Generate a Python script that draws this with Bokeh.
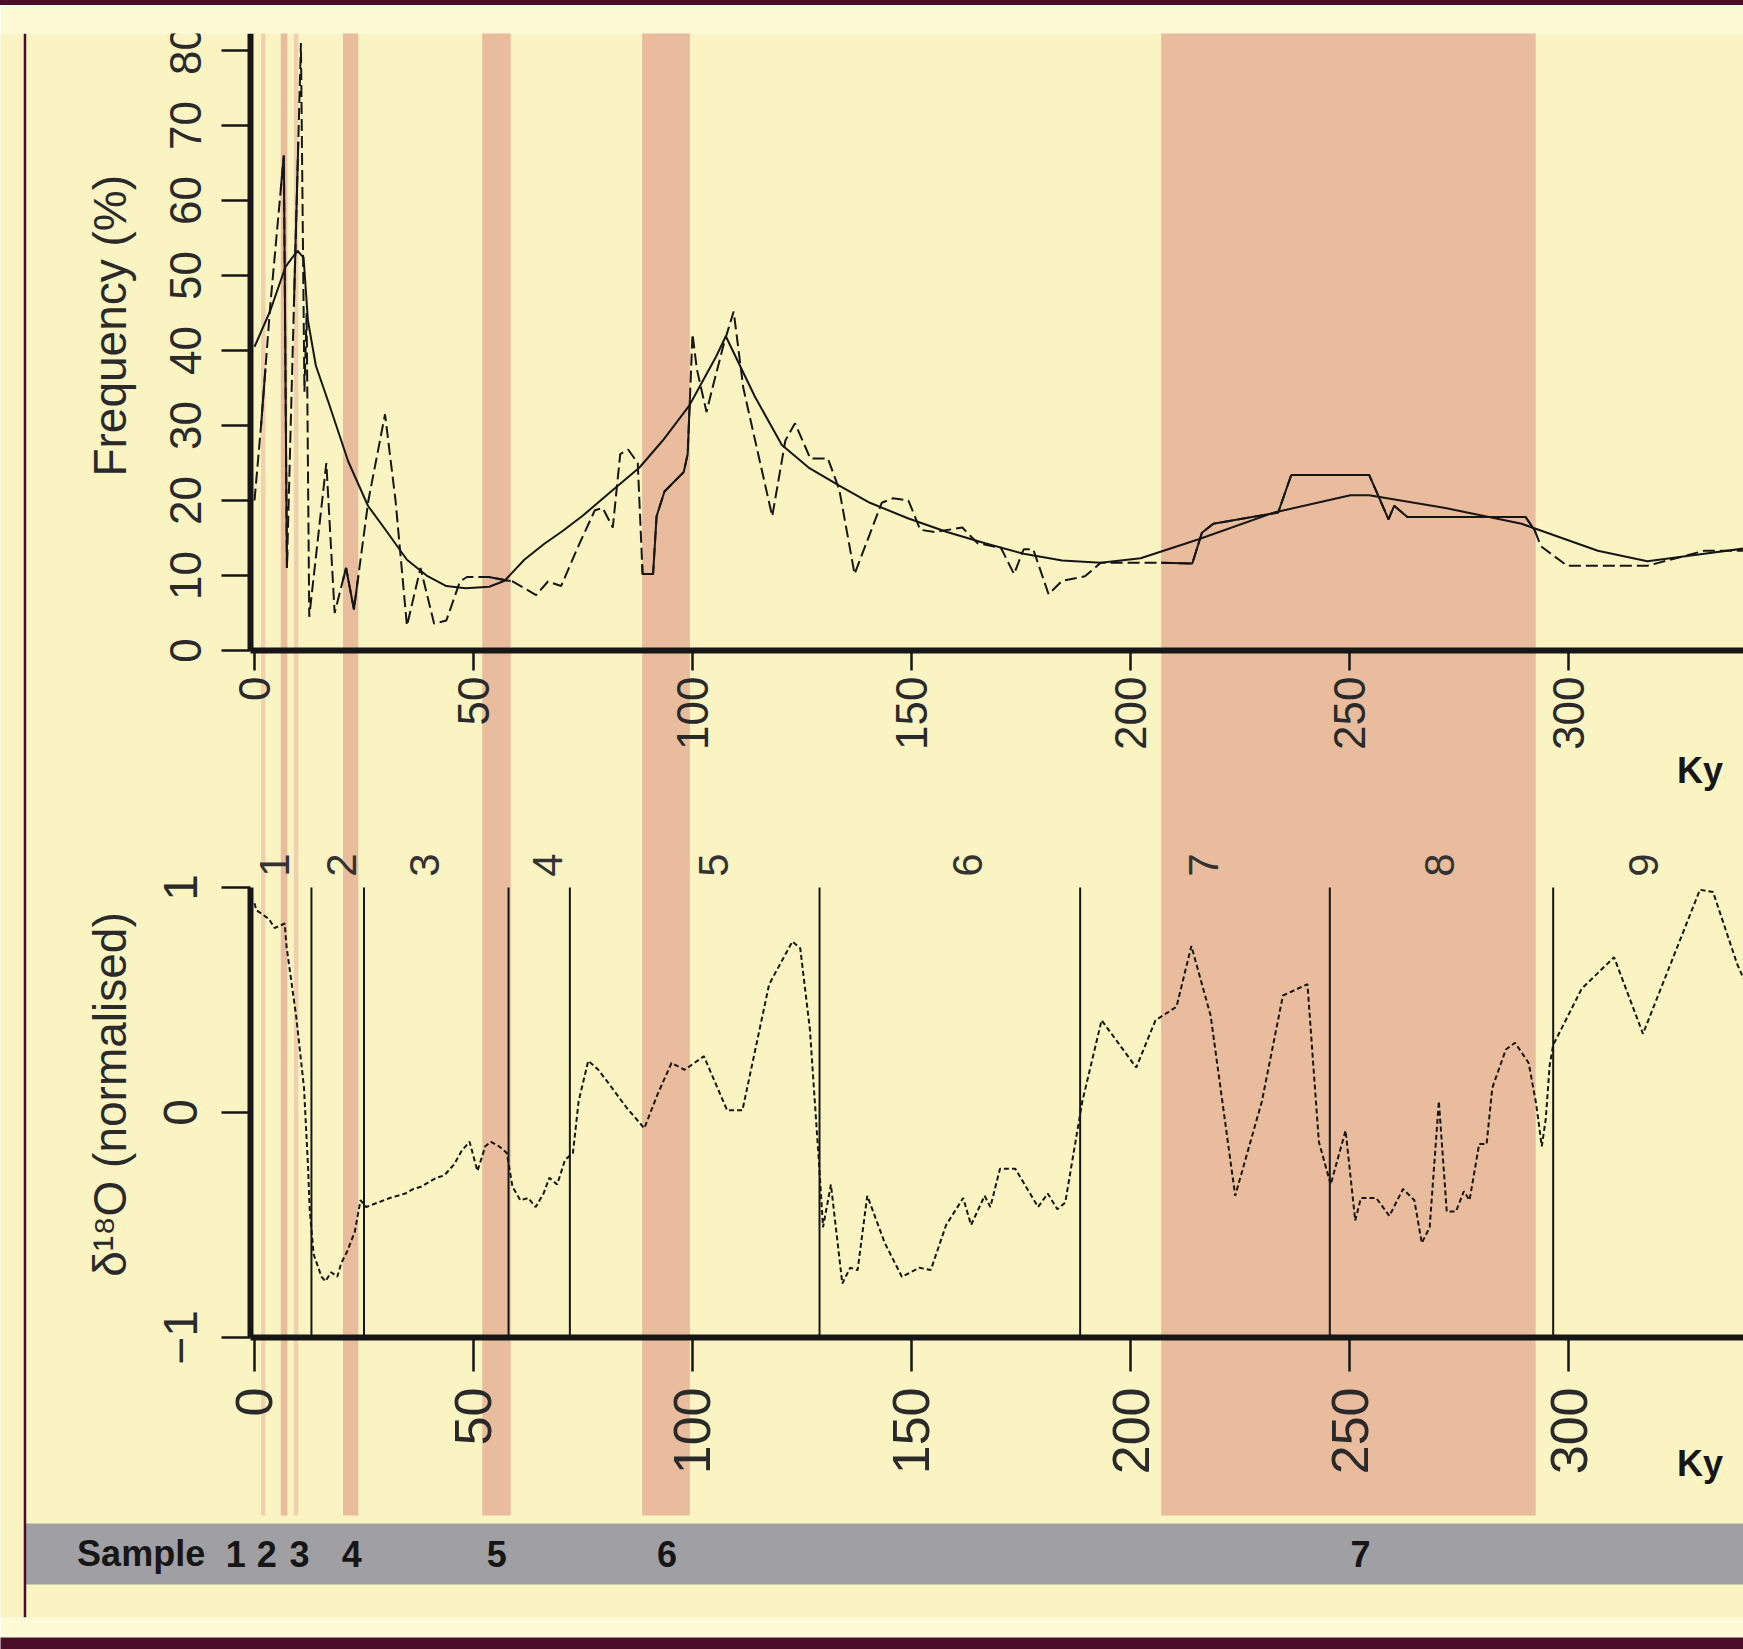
import math
import numpy as np
from bokeh.plotting import figure
from bokeh.models import Range1d, LinearAxis, FixedTicker, Span, BoxAnnotation, ColumnDataSource, Div
from bokeh.layouts import column
from bokeh.core.properties import value
from bokeh.embed import file_html
from bokeh.resources import INLINE

# ---------------- data ----------------
# Frequency (%) raw record (dashed) and smoothed curve (solid), x in Ky
x_raw = [0, 1.5, 3.6, 6.7, 7.4, 10.6, 11.4, 11.9, 12.5, 16.4, 18.3, 20.9, 22.7, 26.0, 29.8,
         32.2, 34.8, 37.9, 41.0, 43.8, 46.9, 48.5, 53.5, 59.0, 64.3, 67.0, 70.0, 74.0, 77.7,
         79.5, 81.8, 83.5, 85.3, 87.5, 88.6, 91.0, 91.8, 93.6, 98.0, 98.9, 100.0, 101.0, 103.2,
         104.6, 107.2, 109.4, 111.6, 118.2, 121.2, 123.4, 126.9, 130.9, 133.5, 137.0, 143.2,
         145.8, 149.3, 152.0, 155.4, 161.6, 165.1, 170.4, 173.4, 175.6, 177.8, 181.3, 184.4,
         189.6, 193.2, 197.5, 206.3, 214.1, 216.3, 218.9, 233.7, 236.7, 254.5, 258.9, 260.2,
         263.2, 290.2, 292.3, 293.7, 299.7, 318.0, 331.0, 340.0]
y_raw = [20, 30, 46, 66, 11, 81, 34.5, 45, 4.5, 25, 5, 11, 5.5, 20, 31.5,
         20, 3.3, 11, 3.6, 4, 9.2, 9.8, 9.8, 9.2, 7.4, 9.2, 8.6, 14, 18.7,
         19, 16.4, 26.2, 26.8, 25, 10.2, 10.2, 17.9, 21.2, 23.8, 26.2, 42.2, 37.5, 31.8,
         35.1, 41, 45.2, 35, 17.9, 28, 30.3, 25.6, 25.6, 21.5, 10.2, 19.7,
         20.3, 20, 16.1, 15.8, 16.4, 14.3, 13.7, 10.2, 13.5, 13.5, 7.5, 9.3,
         9.9, 11.7, 11.7, 11.7, 11.6, 15.7, 16.9, 18.4, 23.4, 23.4, 17.5, 19.3,
         17.8, 17.8, 16, 13.9, 11.3, 11.3, 13.3, 13.3]
x_smooth = [0, 3.6, 7.1, 9.8, 11.2, 12.2, 14.0, 17.0, 21.4, 25.9, 30.4, 34.8, 39.3, 43.8, 48.2,
            53.6, 57.1, 61.6, 66.1, 70.5, 75.0, 81.0, 87.9, 93.2, 99.3, 105.4, 107.6, 114.2,
            120.4, 126.5, 133.5, 140.5, 149.3, 158.1, 166.8, 175.6, 184.4, 193.2, 202.3, 215.4,
            232.8, 250.2, 254.5, 271.9, 289.3, 306.7, 318.0, 328.4, 340.0]
y_smooth = [40.5, 45.3, 51.2, 53.3, 52.4, 44.0, 38.0, 32.9, 25.2, 19.3, 15.7, 12.1, 10.0, 8.6, 8.3,
            8.5, 9.3, 12.1, 14.2, 16.0, 18.0, 21.0, 24.4, 28.0, 32.7, 39.2, 41.9, 33.9,
            27.4, 24.4, 22.0, 19.7, 17.6, 15.8, 14.3, 12.9, 12.0, 11.7, 12.3, 14.8,
            18.4, 20.7, 20.7, 19.0, 16.9, 13.3, 11.9, 12.7, 13.6]

# d18O (normalised)
x_d18o = [0, 0.4, 3.3, 4.6, 6.9, 7.3, 9.5, 11.3, 12.2, 12.6, 13.5, 15.3, 16.2, 17.5, 18.9, 19.8,
          21.1, 22.9, 24.2, 25.5, 28.2, 30.9, 32.7, 34.4, 36.2, 38.0, 39.8, 41.5, 43.3, 45.6,
          47.3, 49.1, 50.9, 52.7, 54.0, 55.8, 57.6, 58.9, 60.7, 62.5, 64.2, 66.0, 67.3, 69.1,
          70.9, 72.7, 74.0, 76.2, 78.5, 81.6, 85.0, 89.0, 92.0, 95.2, 98.2, 102.6, 107.9, 111.4,
          117.5, 122.8, 124.6, 126.8, 128.9, 129.8, 131.6, 134.2, 136.0, 137.7, 139.9, 143.9,
          147.8, 151.8, 154.4, 157.9, 161.8, 163.6, 166.7, 168.0, 170.2, 173.7, 178.9, 181.1,
          183.3, 185.1, 189.0, 193.4, 201.3, 205.7, 210.5, 213.9, 218.3, 223.9, 230.0, 234.8,
          240.4, 243.0, 245.7, 249.1, 251.3, 252.6, 256.1, 259.1, 262.2, 264.8, 266.5, 268.3,
          270.4, 272.2, 274.3, 276.1, 277.4, 279.6, 281.3, 282.6, 285.7, 287.8, 290.9, 292.6,
          293.9, 294.8, 295.7, 296.5, 303.0, 310.4, 317.0, 330.0, 333.0, 338.5, 341.0]
y_d18o = [0.93, 0.90, 0.86, 0.82, 0.84, 0.74, 0.43, 0.11, -0.23, -0.43, -0.63, -0.73, -0.75, -0.71, -0.73, -0.67,
          -0.62, -0.53, -0.39, -0.42, -0.40, -0.38, -0.37, -0.36, -0.34, -0.33, -0.31, -0.29, -0.28, -0.23,
          -0.17, -0.13, -0.26, -0.15, -0.13, -0.15, -0.18, -0.33, -0.39, -0.38, -0.42, -0.36, -0.29, -0.32,
          -0.21, -0.18, 0.05, 0.23, 0.19, 0.11, 0.02, -0.07, 0.08, 0.22, 0.19, 0.25, 0.01, 0.01,
          0.57, 0.76, 0.73, 0.37, -0.23, -0.51, -0.32, -0.76, -0.69, -0.70, -0.37, -0.58,
          -0.73, -0.69, -0.70, -0.50, -0.38, -0.50, -0.37, -0.42, -0.25, -0.25, -0.42, -0.36,
          -0.43, -0.40, 0.05, 0.41, 0.20, 0.41, 0.47, 0.74, 0.43, -0.37, 0.05, 0.52,
          0.57, -0.13, -0.32, -0.08, -0.48, -0.38, -0.38, -0.46, -0.34, -0.39, -0.58, -0.51,
          0.05, -0.44, -0.44, -0.35, -0.39, -0.14, -0.14, 0.11, 0.28, 0.31, 0.22, 0.04,
          -0.15, -0.03, 0.21, 0.30, 0.55, 0.69, 0.35, 0.99, 0.98, 0.66, 0.55]

# Marine isotope stages: boundaries and labels
mis_bounds = [13, 25, 58, 72, 129, 188.5, 245.5, 296.5]
mis_labels = ["1", "2", "3", "4", "5", "6", "7", "8", "9"]
mis_label_x = [4.6, 19.8, 38.9, 66.8, 104.8, 162.7, 216.7, 270.6, 317.1]

# Sample intervals (Ky)
sample_ids = ["1", "2", "3", "4", "5", "6", "7"]
band_start = [1.5, 6.0, 9.0, 20.2, 52.0, 88.5, 207.0]
band_end = [2.5, 7.5, 10.0, 23.7, 58.5, 99.4, 292.5]
sample_label_x = [-4.3, 2.8, 10.3, 22.2, 55.3, 94.2, 252.5]

freq_ticks = [0, 10, 20, 30, 40, 50, 60, 70, 80]
ky_ticks = [0, 50, 100, 150, 200, 250, 300]
d18o_ticks = [-1, 0, 1]

# ---------------- style ----------------
BG = "#FAF4C3"
BG_LIGHT = "#FDFAD6"
SALMON = "#E8BC9C"
SALMON_LIGHT = "#F0D1AE"
GREY = "#A09FA3"
MAROON = "#4A0E28"
INK = "#161616"
LABEL = "#2a2a2a"
FONT = "Liberation Sans"

W = 1743
TOP_STRIP = 5
BOTTOM_STRIP = 12
H = 1632
X0 = -57.99
X1 = 339.95
AX_X = -1.0

p = figure(width=W, height=H, output_backend="svg", toolbar_location=None,
           x_range=Range1d(X0, X1), y_range=Range1d(-128.93, 82.27),
           x_axis_type=None, y_axis_type=None,
           min_border_left=0, min_border_right=0, min_border_top=28, min_border_bottom=20,
           background_fill_color=BG, border_fill_color=BG_LIGHT, outline_line_color=None)
p.extra_y_ranges = {"d18o": Range1d(-2.2444, 4.7956), "samples": Range1d(-0.541, 25.426)}

# sample bands
band_colors = [SALMON_LIGHT, SALMON, SALMON_LIGHT, SALMON, SALMON, SALMON, SALMON]
p.quad(left="l", right="r", bottom=1.13, top=30, y_range_name="samples",
       source=ColumnDataSource(dict(l=band_start, r=band_end, c=band_colors)),
       fill_color="c", line_color=None)

# grey sample strip and left rule
p.add_layout(BoxAnnotation(left=-52.4, bottom=0, top=1, y_range_name="samples",
                           fill_color=GREY, fill_alpha=1.0, line_color=None, level="underlay"))
p.add_layout(Span(location=-52.4, dimension="height", line_color=MAROON, line_width=2.5))

# stage boundaries
p.segment(x0=mis_bounds, y0=-1, x1=mis_bounds, y1=1, y_range_name="d18o",
          line_color=INK, line_width=2)

# frequency curves
p.line(x_raw, y_raw, line_color=INK, line_width=2, line_dash="12 5")
xr = np.array(x_raw, dtype=float)
yr = np.array(y_raw, dtype=float)
seg_x, seg_y = [], []
for s, e in zip(band_start, band_end):
    inner = (xr > s) & (xr < e)
    xs = np.concatenate([[s], xr[inner], [e]])
    seg_x.append(xs.tolist())
    seg_y.append(np.interp(xs, xr, yr).tolist())
p.multi_line(seg_x, seg_y, line_color=INK, line_width=2)
p.line(x_smooth, y_smooth, line_color=INK, line_width=2)

# d18O curve
p.line(x_d18o, y_d18o, y_range_name="d18o", line_color=INK, line_width=2, line_dash="5 3")


def style_axis(ax, orient, size, tick_out, standoff):
    ax.axis_line_width = 6
    ax.axis_line_color = INK
    ax.major_tick_line_width = 2.5
    ax.major_tick_line_color = INK
    ax.major_tick_out = tick_out
    ax.major_tick_in = 0
    ax.minor_tick_line_color = None
    ax.major_label_text_font = FONT
    ax.major_label_text_font_size = size
    ax.major_label_text_color = LABEL
    ax.major_label_orientation = orient
    ax.major_label_standoff = standoff


ax_f = LinearAxis(fixed_location=AX_X, bounds=(0, 82.27), ticker=FixedTicker(ticks=freq_ticks))
style_axis(ax_f, "vertical", "44px", 29, 20)
p.add_layout(ax_f, "left")

ax_fx = LinearAxis(fixed_location=0, bounds=(AX_X, X1), ticker=FixedTicker(ticks=ky_ticks))
style_axis(ax_fx, math.pi / 2, "44px", 20, 6)
p.add_layout(ax_fx, "below")

ax_d = LinearAxis(y_range_name="d18o", fixed_location=AX_X, bounds=(-1, 1),
                  ticker=FixedTicker(ticks=d18o_ticks))
style_axis(ax_d, "vertical", "48px", 29, 24)
p.add_layout(ax_d, "left")

ax_dx = LinearAxis(y_range_name="d18o", fixed_location=-1, bounds=(AX_X, X1),
                   ticker=FixedTicker(ticks=ky_ticks))
style_axis(ax_dx, math.pi / 2, "52px", 34, 16)
p.add_layout(ax_dx, "below")

# axis titles
p.text(x=[-33.0], y=[43.3], text=["Frequency (%)"], angle=math.pi / 2,
       text_font=value(FONT), text_font_size="46px", text_color=LABEL,
       text_align="center", text_baseline="middle")
p.text(x=[-33.0], y=[0.08], text=["δ¹⁸O (normalised)"], angle=math.pi / 2, y_range_name="d18o",
       text_font=value(FONT), text_font_size="46px", text_color=LABEL,
       text_align="center", text_baseline="middle")
p.text(x=[330.0], y=[-16], text=["Ky"], text_font=value(FONT), text_font_style="bold",
       text_font_size="36px", text_color=INK, text_align="center", text_baseline="middle")
p.text(x=[330.0], y=[-1.562], text=["Ky"], y_range_name="d18o", text_font=value(FONT),
       text_font_style="bold", text_font_size="36px", text_color=INK,
       text_align="center", text_baseline="middle")

# stage numbers
p.text(x=mis_label_x, y=[1.1] * len(mis_labels), text=mis_labels, angle=math.pi / 2,
       y_range_name="d18o", text_font=value(FONT), text_font_size="42px", text_color="#333333",
       text_align="center", text_baseline="middle")

# sample labels
p.text(x=[-40.5], y=[0.5], text=["Sample"], y_range_name="samples", text_font=value(FONT),
       text_font_style="bold", text_font_size="36px", text_color=INK,
       text_align="left", text_baseline="middle")
p.text(x=sample_label_x, y=[0.5] * len(sample_ids), text=sample_ids, y_range_name="samples",
       text_font=value(FONT), text_font_style="bold", text_font_size="36px", text_color=INK,
       text_align="center", text_baseline="middle")


def strip(height):
    return figure(width=W, height=height, output_backend="svg", toolbar_location=None,
                  x_axis_type=None, y_axis_type=None, min_border=0,
                  min_border_left=0, min_border_right=0, min_border_top=0, min_border_bottom=0,
                  background_fill_color=MAROON, border_fill_color=MAROON, outline_line_color=None)


top_strip = Div(text="", width=W, height=TOP_STRIP, margin=0,
                styles={"background-color": MAROON, "font-size": "0px", "line-height": "0px",
                        "overflow": "hidden"})
layout = column(top_strip, p, strip(BOTTOM_STRIP), spacing=0)

open("out.html", "w").write(file_html(layout, INLINE))
